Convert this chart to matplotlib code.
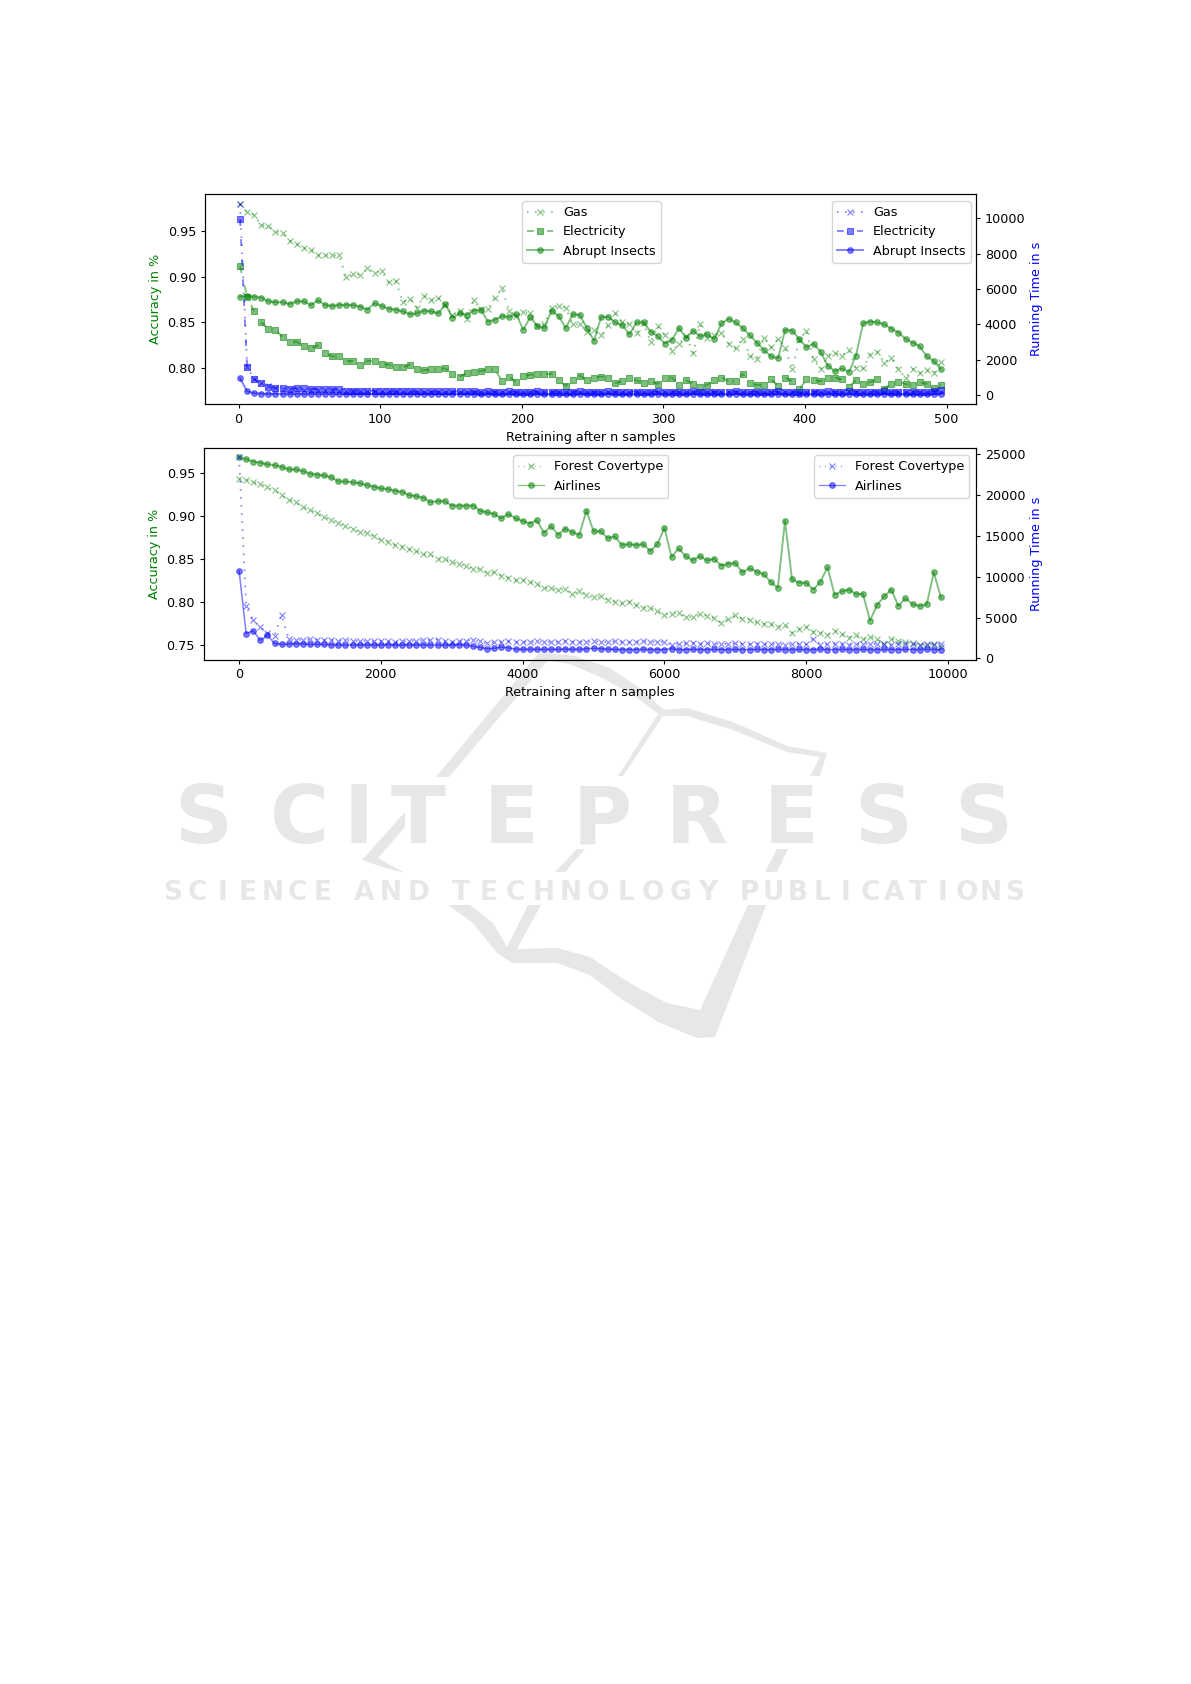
"""Retraining interval vs accuracy and running time, on a SCITEPRESS page with its watermark."""
import numpy as np
import matplotlib
matplotlib.use("Agg")
import matplotlib.pyplot as plt

W, H = 1191, 1684

# sparse dot and dash patterns of the original lines
DOTTED = (0, (0.8, 3.5))
DASHED = (0, (3.6, 7.1))

# ---------- top panel: retrain every 5 samples ----------
retrain_small = list(range(1, 500, 5))

gas_acc = [
    .979, .970, .967, .956, .955, .949, .947, .939, .935, .931,
    .929, .923, .923, .923, .923, .899, .903, .902, .909, .904,
    .906, .894, .895, .872, .876, .866, .879, .874, .877, .869,
    .858, .862, .854, .874, .865, .865, .877, .887, .863, .857,
    .861, .860, .846, .848, .866, .868, .866, .848, .848, .840,
    .842, .836, .847, .860, .850, .848, .838, .849, .829, .846,
    .836, .819, .827, .835, .817, .848, .833, .836, .838, .827,
    .822, .832, .814, .810, .833, .823, .832, .822, .799, .831,
    .841, .810, .799, .814, .817, .814, .820, .800, .800, .815,
    .818, .806, .811, .799, .790, .799, .795, .798, .795, .807,
]
elec_acc = [
    .911, .878, .862, .850, .843, .842, .834, .829, .829, .824,
    .822, .825, .817, .813, .813, .808, .808, .804, .808, .808,
    .805, .804, .801, .801, .804, .799, .798, .799, .799, .800,
    .794, .791, .795, .796, .797, .799, .799, .786, .791, .785,
    .792, .793, .794, .794, .794, .787, .781, .787, .792, .787,
    .790, .791, .790, .784, .786, .789, .787, .784, .786, .783,
    .790, .790, .782, .787, .783, .780, .782, .787, .790, .786,
    .786, .794, .784, .782, .782, .788, .781, .790, .786, .777,
    .788, .787, .786, .790, .790, .788, .780, .787, .783, .785,
    .788, .778, .783, .785, .783, .782, .785, .783, .779, .782,
]
abrupt_acc = [
    .878, .879, .878, .877, .873, .872, .872, .870, .873, .873,
    .869, .874, .869, .868, .869, .869, .869, .867, .864, .871,
    .868, .865, .864, .862, .859, .860, .863, .862, .860, .870,
    .855, .860, .858, .863, .864, .851, .853, .857, .856, .859,
    .842, .856, .846, .844, .863, .857, .844, .859, .858, .844,
    .830, .856, .856, .850, .847, .837, .850, .850, .840, .835,
    .827, .831, .844, .833, .841, .835, .837, .832, .849, .854,
    .850, .844, .836, .828, .820, .813, .811, .842, .841, .832,
    .823, .827, .818, .803, .797, .800, .796, .814, .849, .851,
    .850, .848, .843, .839, .832, .828, .824, .813, .808, .799,
]
gas_time = [
    10810, 1600, 890, 660, 510, 380, 340, 330, 310, 300,
    290, 280, 270, 260, 250, 240, 235, 230, 225, 220,
    215, 210, 205, 200, 200, 195, 195, 190, 190, 190,
    185, 190, 185, 185, 190, 185, 180, 185, 190, 185,
    180, 185, 180, 190, 185, 180, 185, 190, 180, 185,
    190, 185, 180, 185, 190, 185, 180, 190, 185, 185,
    180, 190, 185, 180, 185, 190, 185, 180, 185, 190,
    185, 180, 190, 185, 180, 185, 190, 185, 180, 60,
    185, 190, 185, 180, 190, 185, 180, 185, 190, 185,
    180, 190, 185, 180, 185, 190, 185, 180, 185, 190,
]
elec_time = [
    9960, 1570, 890, 660, 470, 400, 380, 360, 375, 370,
    360, 320, 325, 320, 315, 250, 245, 240, 235, 230,
    225, 220, 215, 215, 215, 210, 210, 205, 205, 200,
    200, 205, 200, 200, 195, 200, 195, 195, 200, 195,
    190, 195, 200, 195, 190, 195, 190, 195, 200, 195,
    190, 195, 200, 190, 195, 190, 195, 190, 195, 200,
    190, 195, 190, 195, 200, 190, 195, 190, 195, 190,
    200, 195, 190, 195, 190, 195, 200, 190, 195, 190,
    195, 190, 195, 200, 190, 195, 240, 190, 195, 190,
    195, 240, 190, 195, 190, 195, 190, 195, 240, 260,
]
abrupt_time = [
    940, 205, 95, 75, 60, 55, 55, 50, 55, 50,
    55, 50, 50, 55, 50, 50, 55, 50, 50, 55,
    50, 50, 55, 50, 50, 55, 50, 50, 55, 50,
    50, 55, 50, 50, 55, 50, 50, 55, 50, 50,
    55, 50, 50, 55, 50, 50, 55, 50, 50, 55,
    50, 50, 55, 50, 50, 55, 50, 50, 55, 50,
    50, 55, 50, 50, 55, 50, 50, 55, 50, 50,
    55, 50, 50, 55, 50, 50, 55, 50, 50, 55,
    50, 50, 55, 50, 50, 55, 50, 50, 55, 50,
    50, 55, 50, 50, 55, 50, 50, 55, 50, 50,
]

# ---------- bottom panel: retrain every 100 samples ----------
retrain_large = list(range(1, 10000, 100))

forest_acc = [
    .943, .942, .939, .937, .933, .930, .924, .919, .916, .910,
    .907, .903, .899, .895, .892, .888, .885, .881, .880, .876,
    .872, .870, .866, .864, .861, .859, .855, .855, .850, .850,
    .846, .844, .842, .838, .838, .833, .834, .830, .828, .825,
    .825, .823, .821, .816, .816, .813, .815, .809, .812, .808,
    .805, .806, .802, .800, .798, .800, .796, .793, .793, .789,
    .785, .786, .787, .782, .782, .786, .783, .781, .775, .780,
    .784, .780, .779, .776, .774, .774, .771, .773, .764, .768,
    .771, .765, .764, .761, .766, .762, .758, .761, .756, .759,
    .757, .751, .757, .754, .753, .752, .749, .749, .750, .747,
]
airlines_acc = [
    .968, .966, .963, .962, .960, .959, .957, .954, .954, .952,
    .949, .948, .947, .945, .940, .940, .939, .938, .936, .934,
    .932, .931, .929, .928, .924, .923, .921, .916, .917, .917,
    .912, .912, .912, .912, .906, .904, .902, .897, .902, .897,
    .894, .891, .895, .880, .888, .878, .885, .881, .878, .906,
    .882, .882, .874, .876, .866, .867, .866, .867, .859, .867,
    .886, .852, .862, .853, .848, .853, .848, .850, .842, .844,
    .845, .834, .839, .835, .832, .823, .816, .894, .826, .822,
    .822, .814, .823, .840, .808, .812, .814, .809, .809, .778,
    .796, .806, .814, .795, .804, .797, .795, .797, .834, .805,
]
forest_time = [
    24700, 6440, 4670, 3810, 3160, 2790, 5330, 2340, 2250, 2300,
    2340, 2300, 2250, 2250, 2200, 2250, 2200, 2100, 2150, 2100,
    2150, 2100, 2050, 2100, 2150, 2200, 2250, 2250, 2300, 2100,
    2050, 2150, 2200, 2250, 2100, 1850, 2000, 2050, 2100, 2000,
    2050, 2000, 2100, 2050, 2000, 2050, 2100, 2050, 2000, 2050,
    2100, 2050, 2000, 2100, 2050, 2000, 2050, 2100, 2050, 2000,
    2050, 1700, 1800, 1850, 1900, 1800, 1850, 1800, 1750, 1800,
    1850, 1800, 1750, 1800, 1750, 1800, 1750, 1700, 1750, 1800,
    1750, 2400, 1700, 1750, 1800, 1750, 1700, 1750, 1800, 1750,
    1800, 1750, 1700, 1750, 1800, 1750, 1700, 1750, 1800, 1800,
]
airlines_time = [
    10740, 3030, 3400, 2210, 2830, 1850, 1720, 1760, 1800, 1770,
    1720, 1720, 1720, 1680, 1640, 1640, 1640, 1640, 1640, 1640,
    1640, 1680, 1640, 1640, 1640, 1640, 1680, 1640, 1640, 1640,
    1640, 1680, 1640, 1500, 1350, 1200, 1250, 1400, 1300, 1150,
    1120, 1120, 1120, 1120, 1120, 1120, 1150, 1120, 1120, 1200,
    1250, 1200, 1150, 1120, 1100, 1100, 1100, 1120, 1100, 1100,
    1100, 1180, 1100, 1100, 1120, 1100, 1100, 1120, 1100, 1100,
    1120, 1100, 1100, 1120, 1100, 1100, 1120, 1100, 1100, 1120,
    1100, 1100, 1120, 1100, 1100, 1120, 1100, 1100, 1120, 1100,
    1100, 1120, 1100, 1100, 1120, 1100, 1100, 1120, 1100, 1100,
]

plt.rcParams.update({
    "font.family": "DejaVu Sans",
    "font.size": 9.2,
    "axes.linewidth": 0.8,
    "xtick.major.size": 3.2,
    "ytick.major.size": 3.2,
    "xtick.major.pad": 3.2,
    "ytick.major.pad": 3.2,
    "lines.linewidth": 1.35,
    "lines.markersize": 4.1,
    "lines.markeredgewidth": 0.8,
})

fig = plt.figure(figsize=(W / 100, H / 100), dpi=100, facecolor="white")

# ---------- publisher watermark, behind the charts ----------
GREY = "#e6e8e7"
bg = fig.add_axes([0, 0, 1, 1], zorder=-1)
bg.set_xlim(0, W)
bg.set_ylim(H, 0)
bg.axis("off")

logo_shapes = [
    [(436, 777), (449, 777), (548, 660), (540, 652), (533, 660)],
    [(540, 652), (575, 656), (610, 668), (640, 688), (666, 712), (660, 715), (632, 694), (600, 677), (570, 664), (545, 660)],
    [(660, 710), (687, 708), (733, 722), (787, 746), (827, 753), (820, 776), (810, 776), (820, 757), (787, 752), (733, 730), (687, 716), (662, 716)],
    [(658, 714), (663, 716), (623, 776), (618, 776)],
    [(777, 849), (788, 849), (777, 872), (765, 872)],
    [(748, 905), (766, 905), (715, 1037), (697, 1038), (660, 1023), (620, 998), (590, 975), (557, 963), (512, 963),
     (497, 953), (473, 923), (448, 905), (470, 905), (493, 923), (507, 947), (528, 905), (541, 905), (517, 949),
     (557, 948), (590, 957), (620, 977), (633, 985), (667, 1003), (700, 1010)],
    [(405, 812), (405, 827), (378, 858), (405, 873), (385, 868), (362, 860)],
    [(555, 872), (577, 849), (585, 849), (565, 872)],
    [(583, 828), (590, 828), (585, 838), (583, 838)],
]
for shape in logo_shapes:
    xs, ys = zip(*shape)
    bg.fill(xs, ys, color=GREY, lw=0)

big_letters = ["S", "C", "I", "T", "E", "P", "R", "E", "S", "S"]
big_centres = [203, 300, 359, 418, 511, 602, 697, 791, 883, 983]
for ch, cx in zip(big_letters, big_centres):
    bg.text(cx, 812.5, ch, fontsize=58, fontweight="bold", color=GREY, ha="center", va="center_baseline")

small_words = ["SCIENCE", "AND", "TECHNOLOGY", "PUBLICATIONS"]
small_spans = [(160, 335), (350, 432), (447, 722), (737, 1027)]
for word, (x0, x1) in zip(small_words, small_spans):
    step = (x1 - x0) / len(word)
    for k, ch in enumerate(word):
        bg.text(x0 + step * (k + 0.5), 889.5, ch, fontsize=19, fontweight="bold", color=GREY,
                ha="center", va="center_baseline")


def panel(left, right, top, bottom):
    ax = fig.add_axes([left / W, 1 - bottom / H, (right - left) / W, (bottom - top) / H])
    ax.patch.set_alpha(0)
    twin = ax.twinx()
    ax.set_xlabel("Retraining after n samples", labelpad=3.4)
    ax.set_ylabel("Accuracy in %", color="green", labelpad=4.2)
    twin.set_ylabel("Running Time in s", color="blue", labelpad=3.4)
    return ax, twin


def pixel_legend(ax, x, y, thin=False):
    leg = ax.legend(loc="upper left", bbox_to_anchor=(x / W, 1 - y / H), bbox_transform=fig.transFigure,
                    borderaxespad=0)
    if thin:
        for line in leg.get_lines():
            line.set_linewidth(0.9)
    return leg


# ═══════════════════════════════════════════════════════════════
# Top panel: Gas, Electricity, Abrupt Insects
# ═══════════════════════════════════════════════════════════════
ax1, ax1r = panel(205, 976, 194, 404)
ax1.plot(retrain_small, gas_acc, ls=DOTTED, marker="x", color="green", alpha=0.5, label="Gas")
ax1.plot(retrain_small, elec_acc, ls=DASHED, marker="s", color="green", alpha=0.5, label="Electricity")
ax1.plot(retrain_small, abrupt_acc, "-", marker="o", color="green", alpha=0.5, label="Abrupt Insects")
ax1r.plot(retrain_small, gas_time, ls=DOTTED, marker="x", color="blue", alpha=0.5, label="Gas")
ax1r.plot(retrain_small, elec_time, ls=DASHED, marker="s", color="blue", alpha=0.5, label="Electricity")
ax1r.plot(retrain_small, abrupt_time, "-", marker="o", color="blue", alpha=0.5, label="Abrupt Insects")
ax1.set_ylim(0.7612, 0.9899)
ax1r.set_ylim(-513, 11385)
pixel_legend(ax1, 522, 201)
pixel_legend(ax1r, 832, 201)

# ═══════════════════════════════════════════════════════════════
# Bottom panel: Forest Covertype, Airlines
# ═══════════════════════════════════════════════════════════════
ax2, ax2r = panel(204, 976, 448, 659.5)
ax2.plot(retrain_large, forest_acc, ls=DOTTED, marker="x", color="green", alpha=0.5, label="Forest Covertype")
ax2.plot(retrain_large, airlines_acc, "-", marker="o", color="green", alpha=0.5, label="Airlines")
ax2r.plot(retrain_large, forest_time, ls=DOTTED, marker="x", color="blue", alpha=0.5, label="Forest Covertype")
ax2r.plot(retrain_large, airlines_time, "-", marker="o", color="blue", alpha=0.5, lw=1.1, label="Airlines")
ax2.set_ylim(0.7326, 0.979)
ax2r.set_ylim(-123, 25786)
pixel_legend(ax2, 513, 455, thin=True)
pixel_legend(ax2r, 814, 455, thin=True)

fig.savefig("out.png", dpi=100)
